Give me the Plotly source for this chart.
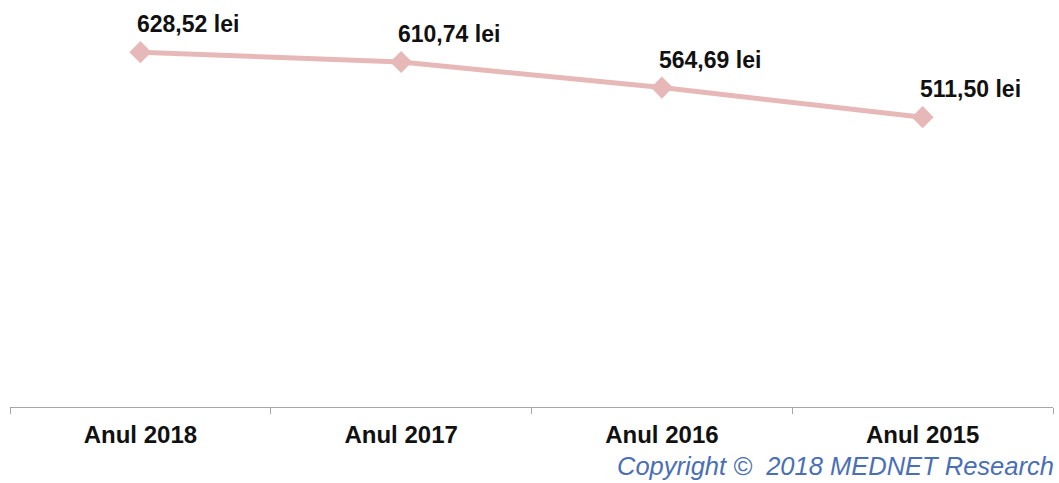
import plotly.graph_objects as go

categories = ["Anul 2018", "Anul 2017", "Anul 2016", "Anul 2015"]
values = [628.52, 610.74, 564.69, 511.50]
label_texts = ["628,52 lei", "610,74 lei", "564,69 lei", "511,50 lei"]

FONT = "Arial, 'Liberation Sans', sans-serif"

fig = go.Figure()
fig.add_trace(go.Scatter(
    x=categories, y=values, mode="lines+markers",
    line=dict(color="#E6B9B8", width=5),
    marker=dict(symbol="diamond", size=17, color="#E6B9B8"),
    hoverinfo="skip", showlegend=False,
))

for c, v, t in zip(categories, values, label_texts):
    fig.add_annotation(x=c, y=v, text="<b>%s</b>" % t, showarrow=False,
                       xanchor="center", yanchor="middle", xshift=48, yshift=28,
                       font=dict(family=FONT, size=23, color="#111111"))

fig.add_annotation(xref="paper", yref="paper", x=1.0, y=-0.146, xshift=3,
                   text="<i>Copyright ©  2018 MEDNET Research</i>",
                   showarrow=False, xanchor="right", yanchor="middle",
                   font=dict(family=FONT, size=25.5, color="#4A6FB5"))

fig.update_layout(
    width=1059, height=483,
    margin=dict(l=10, r=6, t=0, b=76),
    paper_bgcolor="white", plot_bgcolor="white",
    xaxis=dict(type="category", range=[-0.5, 3.5], tickson="boundaries",
               showline=True, linecolor="#A6A6A6", linewidth=1,
               ticks="outside", ticklen=6, tickcolor="#A6A6A6",
               showgrid=False, ticklabelstandoff=6,
               tickfont=dict(family=FONT, size=24, color="#111111"),
               tickprefix="<b>", ticksuffix="</b>"),
    yaxis=dict(range=[-10.3, 722.4], visible=False, showgrid=False, zeroline=False),
)

fig.write_html("out.html", config={"displayModeBar": False},
               post_script="document.body.style.margin='0';document.body.style.overflow='hidden';")
